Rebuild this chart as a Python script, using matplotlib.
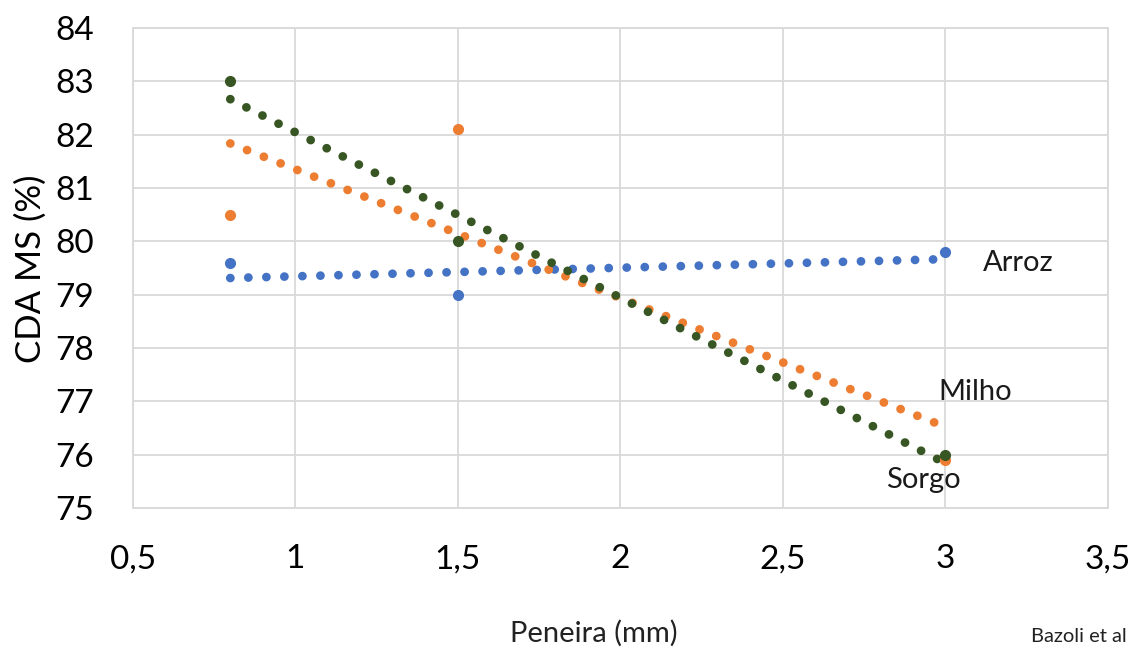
import numpy as np
import matplotlib
matplotlib.use("Agg")
import matplotlib.pyplot as plt

plt.rcParams['font.family'] = ['Lato', 'DejaVu Sans']

peneira = [0.8, 1.5, 3.0]
arroz = [79.6, 79.0, 79.8]
milho = [80.5, 82.1, 75.9]
sorgo = [83.0, 80.0, 76.0]

series = [
    ("Arroz", arroz, "#4472c4"),
    ("Milho", milho, "#ed7d31"),
    ("Sorgo", sorgo, "#375623"),
]
label_pos = {"Arroz": (3.117, 79.6), "Milho": (2.98, 77.17), "Sorgo": (2.818, 75.52)}

fig = plt.figure(figsize=(11.35, 6.48), dpi=100)
ax = fig.add_axes([0.117, 0.216, 0.859, 0.741])

x = np.array(peneira)
for name, y, col in series:
    # linear trendline through the three points
    k, b = np.polyfit(x, y, 1)
    xx = np.array([x.min(), x.max()])
    ax.plot(xx, k * xx + b, color=col, lw=6.3, linestyle=(0, (0.01, 2.05)),
            dash_capstyle='round', zorder=3)
    ax.plot(x, y, 'o', color=col, ms=7, mec=col, zorder=4)
    tx, ty = label_pos[name]
    ax.text(tx, ty, name, fontsize=21, color="#1a1a1a", ha='left', va='center')

ax.set_xlim(0.5, 3.5)
ax.set_ylim(75, 84)
xt = np.arange(0.5, 3.51, 0.5)
ax.set_xticks(xt)
ax.set_xticklabels([("%g" % v).replace(".", ",") for v in xt])
ax.set_yticks(np.arange(75, 85, 1))
ax.tick_params(axis='both', length=0, labelsize=24, colors="#000000")
ax.tick_params(axis='y', pad=28)
ax.tick_params(axis='x', pad=26)
ax.grid(True, color="#d9d9d9", lw=1.3)
for s in ax.spines.values():
    s.set_color("#d9d9d9")
    s.set_linewidth(1.3)

fig.text(0.027, 0.586, "CDA MS (%)", rotation=90, fontsize=25, ha='center', va='center')
fig.text(0.523, 0.023, "Peneira (mm)", fontsize=21, ha='center', va='center', color="#222222")
fig.text(0.908, 0.004, "Bazoli et al", fontsize=14.5, ha='left', va='bottom', color="#222222")

fig.savefig("out.png", dpi=100)
